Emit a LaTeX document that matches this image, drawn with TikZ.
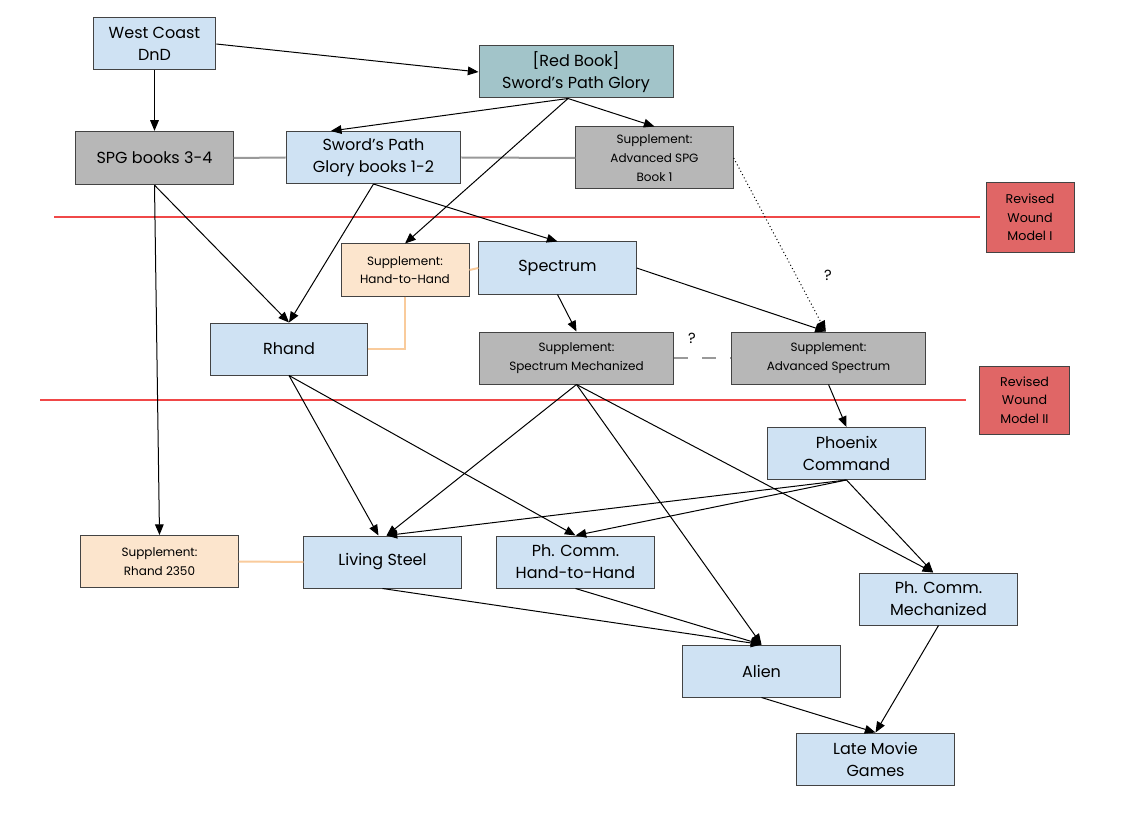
\documentclass[tikz,border=0pt]{standalone}
\usepackage{fontspec}
\setmainfont{Poppins}
\usepackage{xcolor}
\definecolor{gameblue}{HTML}{CFE2F3}
\definecolor{redbookteal}{HTML}{A2C4C9}
\definecolor{bookgray}{HTML}{B7B7B7}
\definecolor{supporange}{HTML}{FCE5CD}
\definecolor{woundred}{HTML}{E06666}
\definecolor{cutred}{HTML}{F04848}
\definecolor{linkgray}{HTML}{999999}
\definecolor{linkorange}{HTML}{F9CB9C}
\definecolor{boxline}{HTML}{434343}
\usetikzlibrary{arrows.meta, positioning}

\begin{document}
\begin{tikzpicture}[
    x=0.75pt, y=-0.75pt,
    >={Triangle[length=8pt,width=6.5pt]},
    box/.style={rectangle, draw=boxline, line width=0.75pt, align=center, minimum width=118pt, minimum height=39pt, inner sep=1pt, font=\fontsize{12}{16.5}\selectfont},
    game/.style={box, fill=gameblue},
    graybook/.style={box, fill=bookgray},
    suppl/.style={box, fill=supporange, font=\fontsize{9}{14}\selectfont},
    grayfine/.style={graybook, font=\fontsize{9}{14}\selectfont},
    wound/.style={box, fill=woundred, minimum width=66pt, minimum height=52pt, font=\fontsize{9.5}{14}\selectfont},
    link/.style={draw=black, line width=0.75pt},
    graylink/.style={draw=linkgray, line width=1.5pt},
    orangelink/.style={draw=linkorange, line width=1.5pt},
    cutline/.style={draw=cutred, line width=0.9pt}
]
\fill[white] (0,0) rectangle (1126,816);
\useasboundingbox (0,0) rectangle (1126,816);

\node[game, minimum width=92pt] (wcdnd) at (154.5,44) {West Coast\\DnD};
\node[box, fill=redbookteal, minimum width=145.5pt] (redbook) at (576,72) {[Red Book]\\Sword’s Path Glory};
\node[graybook, minimum height=40pt] (spg34) at (154.5,158) {SPG books 3-4};
\node[game, minimum width=131pt] (spg12) at (373.5,157.5) {Sword’s Path\\Glory books 1-2};
\node[grayfine, minimum height=46.5pt] (advspg) at (654.5,158) {Supplement:\\Advanced SPG\\Book 1};
\node[wound] (rwm1) at (1030,217.5) {Revised\\Wound\\Model I};
\node[suppl, minimum width=96pt] (hth) at (405,270) {Supplement:\\Hand-to-Hand};
\node[game] (spectrum) at (557.5,268) {Spectrum};
\node[game] (rhand) at (289,349) {Rhand};
\node[grayfine, minimum width=146pt] (specmech) at (576.5,358) {Supplement:\\Spectrum Mechanized};
\node[grayfine, minimum width=145pt] (advspec) at (828.5,358) {Supplement:\\Advanced Spectrum};
\node[wound, minimum width=67pt, minimum height=51pt] (rwm2) at (1024.5,400) {Revised\\Wound\\Model II};
\node[game] (phoenix) at (846.5,453.5) {Phoenix\\Command};
\node[suppl] (rhand2350) at (159.5,561.5) {Supplement:\\Rhand 2350};
\node[game] (livsteel) at (382.5,562) {Living Steel};
\node[game] (phhth) at (575.5,562) {Ph. Comm.\\Hand-to-Hand};
\node[game] (phmech) at (938.5,599) {Ph. Comm.\\Mechanized};
\node[game] (alien) at (761.5,671) {Alien};
\node[game] (latemovie) at (875.5,759) {Late Movie\\Games};

\node[font=\fontsize{11}{14}\selectfont] (q1) at (828,275) {?};
\node[font=\fontsize{11}{14}\selectfont] (q2) at (692,338) {?};

% wound model cut lines
\coordinate (cut1) at (54,217);
\coordinate (cut1end) at (980,217);
\coordinate (cut2) at (40,400);
\coordinate (cut2end) at (966,400);
\draw[cutline] (cut1) -- (cut1end);
\draw[cutline] (cut2) -- (cut2end);

% side links
\draw[graylink] (spg34.east) -- (spg12.west);
\draw[graylink] (spg12.east) -- (advspg.west);
\draw[orangelink] (hth.east) -- (spectrum.west);
\draw[orangelink] (hth.south) |- (rhand.east);
\draw[orangelink] (rhand2350.east) -- (livsteel.west);
\draw[graylink, dash pattern=on 10pt off 11pt] (specmech.east) -- (advspec.west);

% descent
\draw[link, ->] (wcdnd.east) -- (redbook.west);
\draw[link, ->] (wcdnd.south) -- (spg34.north);
\draw[link, ->] ([xshift=-6pt]redbook.south) -- ([xshift=-32pt]spg12.north);
\draw[link, ->] ([xshift=-6pt]redbook.south) -- (advspg.north);
\draw[link, ->] ([xshift=-6pt]redbook.south) -- (hth.north);
\draw[link, ->] (spg12.south) -- (rhand.north);
\draw[link, ->] (spg12.south) -- (spectrum.north);
\draw[link, ->] (spg34.south) -- (rhand.north);
\draw[link, ->] (spg34.south) -- (rhand2350.north);
\draw[link, ->] (spectrum.south) -- (specmech.north);
\draw[link, ->] (spectrum.east) -- ([xshift=-2pt]advspec.north);
\draw[link, ->, dotted] (advspg.east) -- ([xshift=-2pt]advspec.north);
\draw[link, ->] (advspec.south) -- (phoenix.north);
\draw[link, ->] (rhand.south) -- ([xshift=-3pt]livsteel.north);
\draw[link, ->] (rhand.south) -- (phhth.north);
\draw[link, ->] (specmech.south) -- ([xshift=3pt]livsteel.north);
\draw[link, ->] (specmech.south) -- (alien.north);
\draw[link, ->] (specmech.south) -- ([xshift=-4pt]phmech.north);
\draw[link, ->] (phoenix.south) -- ([xshift=3pt]livsteel.north);
\draw[link, ->] (phoenix.south) -- (phhth.north);
\draw[link, ->] (phoenix.south) -- ([xshift=-4pt]phmech.north);
\draw[link, ->] (livsteel.south) -- (alien.north);
\draw[link, ->] (phhth.south) -- (alien.north);
\draw[link, ->] (alien.south) -- (latemovie.north);
\draw[link, ->] (phmech.south) -- (latemovie.north);

\end{tikzpicture}
\end{document}
